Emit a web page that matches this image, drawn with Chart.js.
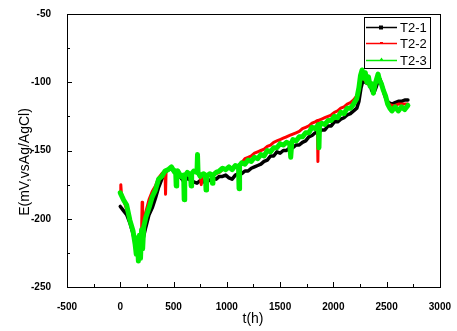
<!DOCTYPE html>
<html>
<head>
<meta charset="utf-8">
<script src="https://cdn.jsdelivr.net/npm/chart.js@4.4.0/dist/chart.umd.min.js"></script>
<style>
  body { margin: 0; background: #fff; }
  canvas { display: block; }
</style>
</head>
<body>
<canvas id="potential" width="457" height="331"></canvas>
<script>
// series names
const seriesNames = ['T2-1', 'T2-2', 'T2-3'];

// T2-1 (black)
const hoursT21 = [
  0, 30, 60, 90, 120, 150, 170, 190, 210, 240,
  270, 300, 330, 360, 390, 420, 450, 480, 510, 540,
  570, 600, 630, 660, 690, 720, 750, 780, 810, 840,
  870, 900, 930, 960, 990, 1020, 1050, 1080, 1110, 1140,
  1170, 1200, 1230, 1260, 1290, 1320, 1350, 1380, 1410, 1440,
  1470, 1500, 1530, 1560, 1590, 1620, 1650, 1680, 1710, 1740,
  1770, 1800, 1830, 1860, 1890, 1920, 1950, 1980, 2010, 2040,
  2070, 2100, 2130, 2160, 2190, 2220, 2240, 2260, 2280, 2300,
  2320, 2340, 2360, 2380, 2400, 2420, 2440, 2460, 2480, 2500,
  2520, 2550, 2580, 2610, 2640, 2670, 2700
];
const eT21 = [
  -191, -194, -197, -203, -211, -221, -227, -223, -216, -206,
  -197, -192, -185, -177, -171, -166, -164, -163, -166, -167,
  -170, -173, -170, -172, -173, -174, -172, -173, -171, -172,
  -170, -171, -169, -169, -168, -170, -171, -168, -167, -167,
  -165, -165, -163, -162, -161, -160, -158, -157, -154, -154,
  -151, -152, -150, -150, -148, -148, -146, -146, -144, -143,
  -140, -139, -137, -137, -135, -135, -132, -132, -129, -129,
  -127, -126, -124, -123, -121, -119, -114, -104, -98, -100,
  -101, -100, -106, -108, -104, -99, -98, -103, -109, -113,
  -115, -116, -115, -114, -114, -113, -113
];

// T2-2 (red)
const hoursT22 = [
  0, 5, 10, 30, 60, 90, 120, 150, 170, 190,
  200, 205, 210, 240, 270, 300, 330, 360, 390, 420,
  425, 430, 450, 480, 510, 540, 570, 600, 630, 660,
  690, 720, 750, 760, 770, 780, 810, 840, 870, 900,
  930, 960, 990, 1020, 1050, 1080, 1110, 1115, 1120, 1140,
  1170, 1200, 1230, 1260, 1290, 1320, 1350, 1380, 1410, 1440,
  1470, 1500, 1530, 1560, 1590, 1620, 1650, 1680, 1710, 1740,
  1770, 1800, 1830, 1850, 1855, 1860, 1890, 1920, 1950, 1980,
  2010, 2040, 2070, 2100, 2130, 2160, 2190, 2220, 2240, 2260,
  2280, 2300, 2320, 2340, 2360, 2380, 2400, 2420, 2440, 2460,
  2480, 2500, 2520, 2550, 2580, 2610, 2640, 2670, 2700
];
const eT22 = [
  -180, -175, -181, -186, -193, -200, -210, -220, -226, -219,
  -210, -188, -208, -195, -186, -180, -176, -170, -167, -165,
  -182, -165, -164, -163, -165, -166, -168, -169, -167, -167,
  -166, -166, -168, -175, -168, -168, -169, -168, -168, -167,
  -166, -164, -164, -163, -163, -161, -161, -175, -160, -159,
  -156, -155, -154, -152, -151, -150, -149, -147, -146, -144,
  -143, -142, -141, -140, -139, -138, -137, -136, -134, -133,
  -132, -130, -129, -128, -158, -128, -127, -126, -125, -124,
  -122, -121, -119, -118, -116, -115, -113, -110, -106, -97,
  -95, -99, -101, -99, -103, -102, -100, -97, -99, -104,
  -109, -114, -116, -117, -117, -116, -116, -116, -116
];

// T2-3 (green)
const hoursT23 = [
  0, 30, 60, 90, 120, 140, 150, 160, 170, 180,
  190, 200, 210, 220,
  240, 270, 300, 330, 360, 390, 420, 450, 480, 510,
  520, 525, 530, 540, 570, 595, 600, 605, 630, 660,
  665, 670, 690, 720, 725, 730, 750, 780, 800, 805,
  810, 840, 860, 865, 870, 900, 930, 960, 990, 1020,
  1050, 1080, 1110, 1115, 1120, 1140, 1170, 1200, 1230, 1260,
  1290, 1320, 1350, 1380, 1410, 1440, 1470, 1500, 1530, 1560,
  1590, 1600, 1610, 1620, 1650, 1680, 1710, 1740, 1770, 1800,
  1830, 1860, 1865, 1870, 1890, 1920, 1950, 1980, 2010, 2040,
  2070, 2100, 2130, 2160, 2190, 2220, 2240, 2255, 2270, 2285,
  2300, 2315, 2330, 2345, 2360, 2375, 2390, 2405, 2420, 2435,
  2450, 2470, 2490, 2510, 2530, 2550, 2580, 2610, 2640, 2670,
  2700
];
const eT23 = [
  -181, -186, -190, -201, -209, -219, -226, -214, -231, -212,
  -229, -208, -222, -206,
  -199, -192, -184, -179, -171, -169, -165, -164, -162, -166,
  -165, -176, -166, -165, -169, -168, -186, -169, -166, -168,
  -176, -167, -165, -166, -153, -166, -169, -167, -168, -179,
  -169, -167, -168, -174, -168, -166, -165, -163, -164, -162,
  -164, -161, -162, -178, -161, -159, -160, -157, -158, -155,
  -156, -153, -154, -150, -151, -148, -148, -145, -146, -144,
  -145, -155, -144, -142, -143, -140, -140, -137, -137, -133,
  -134, -131, -148, -132, -130, -131, -128, -128, -125, -126,
  -122, -123, -119, -119, -116, -112, -104, -95, -91, -97,
  -93, -100, -96, -103, -101, -108, -102, -98, -94, -99,
  -101, -106, -110, -116, -119, -121, -118, -121, -118, -120,
  -117
];

// axis ticks
const xTicks = [-500, 0, 500, 1000, 1500, 2000, 2500, 3000];
const yTicks = [-250, -200, -150, -100, -50];

const FONT = '"Liberation Sans", Arial, sans-serif';

function toPoints(hours, values) {
  return hours.map((h, i) => ({ x: h, y: values[i] }));
}

// frame, inward ticks, axis titles and boxed legend
const frame = {
  id: 'frame',
  afterDraw(chart) {
    const ctx = chart.ctx;
    const a = chart.chartArea;
    const xs = chart.scales.x;
    const ys = chart.scales.y;
    ctx.save();
    ctx.strokeStyle = '#000';
    ctx.lineWidth = 1;
    ctx.strokeRect(Math.round(a.left) + 0.5, Math.round(a.top) + 0.5,
      Math.round(a.right - a.left), Math.round(a.bottom - a.top));

    ctx.beginPath();
    for (let i = 0; i < xTicks.length; i++) {
      const px = Math.round(xs.getPixelForValue(xTicks[i])) + 0.5;
      ctx.moveTo(px, a.bottom); ctx.lineTo(px, a.bottom - 5);
      if (i < xTicks.length - 1) {
        const mx = Math.round(xs.getPixelForValue((xTicks[i] + xTicks[i + 1]) / 2)) + 0.5;
        ctx.moveTo(mx, a.bottom); ctx.lineTo(mx, a.bottom - 3);
      }
    }
    for (let i = 0; i < yTicks.length; i++) {
      const py = Math.round(ys.getPixelForValue(yTicks[i])) + 0.5;
      ctx.moveTo(a.left, py); ctx.lineTo(a.left + 5, py);
      if (i < yTicks.length - 1) {
        const my = Math.round(ys.getPixelForValue((yTicks[i] + yTicks[i + 1]) / 2)) + 0.5;
        ctx.moveTo(a.left, my); ctx.lineTo(a.left + 3, my);
      }
    }
    ctx.stroke();

    // axis titles
    ctx.fillStyle = '#000';
    ctx.font = '14px ' + FONT;
    ctx.textAlign = 'center';
    ctx.textBaseline = 'middle';
    ctx.fillText('t(h)', 253, 319);
    ctx.save();
    ctx.translate(25, 162);
    ctx.rotate(-Math.PI / 2);
    ctx.fillText('E(mV,vsAg/AgCl)', 0, 0);
    ctx.restore();

    // legend
    const bx = 364, by = 17, bw = 66, bh = 51;
    ctx.fillStyle = '#fff';
    ctx.fillRect(bx, by, bw, bh);
    ctx.strokeStyle = '#000';
    ctx.strokeRect(bx + 0.5, by + 0.5, bw, bh);
    const rows = [27, 43, 60];
    chart.data.datasets.forEach((ds, i) => {
      const y = rows[i] + 0.5;
      ctx.strokeStyle = ds.borderColor;
      ctx.lineWidth = 1.5;
      ctx.beginPath();
      ctx.moveTo(366, y); ctx.lineTo(397, y);
      ctx.stroke();
      ctx.fillStyle = ds.borderColor;
      if (i === 0) ctx.fillRect(379, y - 2, 4, 4);
      else if (i === 1) ctx.fillRect(380, y - 1.5, 3, 2);
      else {
        ctx.beginPath();
        ctx.moveTo(381.5, y - 3); ctx.lineTo(383.5, y); ctx.lineTo(379.5, y);
        ctx.fill();
      }
      ctx.fillStyle = '#000';
      ctx.font = '13px ' + FONT;
      ctx.textAlign = 'left';
      ctx.fillText(ds.label, 400, y + 1);
    });
    ctx.restore();
  }
};

new Chart(document.getElementById('potential'), {
  type: 'line',
  data: {
    datasets: [
      { label: seriesNames[0], data: toPoints(hoursT21, eT21), borderColor: '#000000', borderWidth: 3.5, order: 3 },
      { label: seriesNames[1], data: toPoints(hoursT22, eT22), borderColor: '#ff0000', borderWidth: 3, order: 2 },
      { label: seriesNames[2], data: toPoints(hoursT23, eT23), borderColor: '#00ee00', borderWidth: 5, order: 1 }
    ]
  },
  options: {
    responsive: false,
    animation: false,
    layout: { padding: { top: 12, right: 16, left: 0, bottom: 0 } },
    elements: {
      point: { radius: 0 },
      line: { tension: 0, borderJoinStyle: 'round', borderCapStyle: 'round' }
    },
    plugins: { legend: { display: false }, tooltip: { enabled: false } },
    scales: {
      x: {
        type: 'linear', min: -500, max: 3000,
        grid: { display: false }, border: { display: false },
        afterBuildTicks: s => { s.ticks = xTicks.map(v => ({ value: v })); },
        afterFit: s => { s.height = 44; },
        ticks: {
          color: '#000', padding: 6, maxRotation: 0,
          callback: v => String(v),
          font: { family: FONT, size: 10, weight: 'bold' }
        }
      },
      y: {
        min: -250, max: -50,
        grid: { display: false }, border: { display: false },
        afterBuildTicks: s => { s.ticks = yTicks.map(v => ({ value: v })); },
        afterFit: s => { s.width = 67; },
        ticks: {
          color: '#000', padding: 8,
          callback: v => String(v),
          font: { family: FONT, size: 10, weight: 'bold' }
        }
      }
    }
  },
  plugins: [frame]
});
</script>
</body>
</html>
